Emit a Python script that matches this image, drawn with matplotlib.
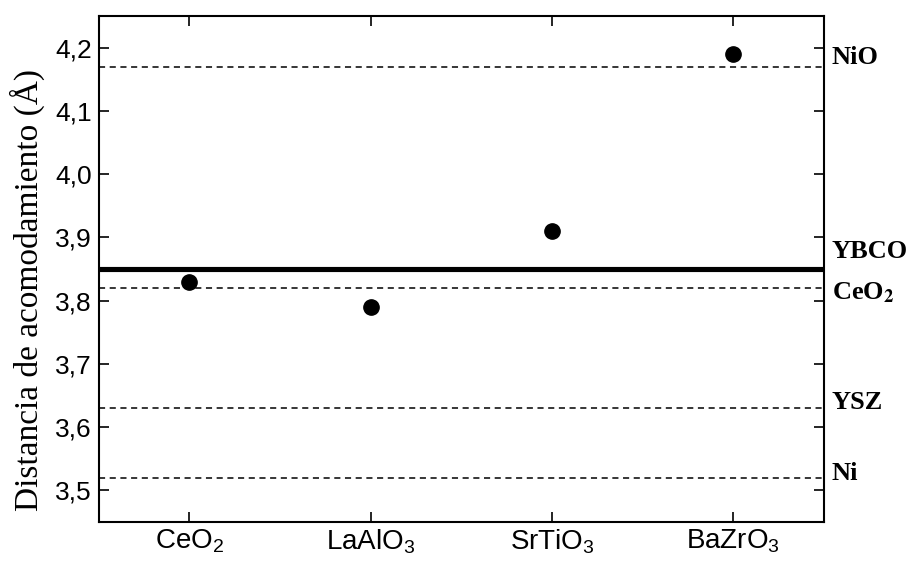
import matplotlib
matplotlib.use('Agg')
import matplotlib.pyplot as plt
import matplotlib.transforms as mtransforms

# substrates on the x axis and their accommodation distances
substrates = ['CeO$_2$', 'LaAlO$_3$', 'SrTiO$_3$', 'BaZrO$_3$']
distances = [3.83, 3.79, 3.91, 4.19]

# reference lattice values (dashed lines)
ref_names = ['NiO', 'CeO$_\\mathbf{2}$', 'YSZ', 'Ni']
ref_values = [4.17, 3.82, 3.63, 3.52]
ref_label_y = [4.184, 3.812, 3.639, 3.527]

# YBCO (thick solid line)
ybco_value = 3.85
ybco_label_y = 3.877

yticks = [3.5, 3.6, 3.7, 3.8, 3.9, 4.0, 4.1, 4.2]

plt.rcParams['mathtext.fontset'] = 'custom'
plt.rcParams['mathtext.rm'] = 'Liberation Sans'
plt.rcParams['mathtext.it'] = 'Liberation Sans:italic'
plt.rcParams['mathtext.bf'] = 'Liberation Sans:bold'

fig = plt.figure(figsize=(9.14, 5.63), dpi=100)
ax = fig.add_axes([0.108, 0.0728, 0.7935, 0.8988])

x = list(range(len(substrates)))

#Reference lines first so the points sit on top
for v in ref_values:
    ax.axhline(v, color='black', lw=1.1, ls=(0, (4, 3)), zorder=1)
ax.axhline(ybco_value, color='black', lw=3.7, zorder=2)

ax.plot(x, distances, 'o', color='black', markersize=11, zorder=3)

ax.set_xlim(-0.5, 3.5)
ax.set_ylim(3.45, 4.25)
ax.set_xticks(x)
ax.set_xticklabels(substrates, fontsize=20, family='Liberation Sans')
ax.set_yticks(yticks)
ax.set_yticklabels([f'{v:.1f}'.replace('.', ',') for v in yticks],
                   fontsize=19, family='Liberation Sans')
ax.tick_params(direction='in', length=7.5, width=1.2, top=True, right=True,
               labeltop=False, labelright=False)
ax.tick_params(axis='x', pad=4)
ax.tick_params(axis='y', pad=5)

for s in ax.spines.values():
    s.set_linewidth(1.5)

ax.set_ylabel('Distancia de acomodamiento (Å)', fontsize=24,
              family='Liberation Serif')
ax.yaxis.set_label_coords(-0.074, 0.458)

#Labels for the reference lines on the right side
trans = mtransforms.blended_transform_factory(ax.transAxes, ax.transData)
for name, yl in zip(ref_names, ref_label_y):
    ax.text(1.011, yl, name, transform=trans, fontsize=19,
            family='Liberation Serif', fontweight='bold',
            math_fontfamily='stix', va='center', ha='left')
ax.text(1.011, ybco_label_y, 'YBCO', transform=trans, fontsize=19,
        family='Liberation Serif', fontweight='bold', va='center', ha='left')

fig.savefig('out.png', dpi=100)
